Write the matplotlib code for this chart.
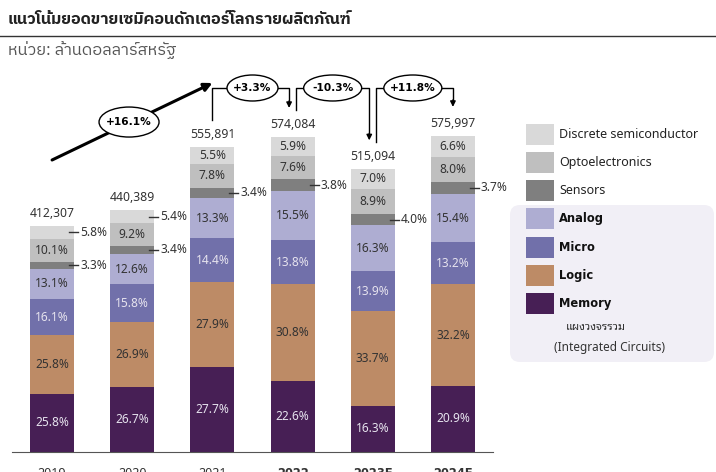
import matplotlib
matplotlib.use("Agg")
import matplotlib.pyplot as plt
from matplotlib.patches import Ellipse, FancyBboxPatch, Rectangle
import numpy as np

plt.rcParams["font.family"] = ["Noto Sans", "Noto Sans Thai", "DejaVu Sans"]
THAI = ["IBM Plex Sans Thai", "Noto Sans Thai", "Noto Sans"]
BOLD = "DejaVu Sans"   # Noto Sans here has no bold face

# ---- data ----
years = ["2019", "2020", "2021", "2022", "2023F", "2024F"]
bold_years = ["2022", "2023F", "2024F"]
totals = [412307, 440389, 555891, 574084, 515094, 575997]
growth = ["+16.1%", "+3.3%", "-10.3%", "+11.8%"]   # 2019->2021, then year on year

# shares (%) bottom -> top
memory = [25.8, 26.7, 27.7, 22.6, 16.3, 20.9]
logic = [25.8, 26.9, 27.9, 30.8, 33.7, 32.2]
micro = [16.1, 15.8, 14.4, 13.8, 13.9, 13.2]
analog = [13.1, 12.6, 13.3, 15.5, 16.3, 15.4]
sensors = [3.3, 3.4, 3.4, 3.8, 4.0, 3.7]
opto = [10.1, 9.2, 7.8, 7.6, 8.9, 8.0]
discrete = [5.8, 5.4, 5.5, 5.9, 7.0, 6.6]
# which labels sit outside the bar (with a small leader)
sensors_out = [True] * 6
discrete_out = [True, True, False, False, False, False]

series = [
    ("Memory", memory, "#471f55", "#e6e3ee", None),
    ("Logic", logic, "#bd8b66", "#333333", None),
    ("Micro", micro, "#7170aa", "#e6e3ee", None),
    ("Analog", analog, "#aeadd2", "#333333", None),
    ("Sensors", sensors, "#7f7f7f", "#333333", sensors_out),
    ("Optoelectronics", opto, "#bfbfbf", "#333333", None),
    ("Discrete semiconductor", discrete, "#d9d9d9", "#333333", discrete_out),
]
ic_names = ["Analog", "Micro", "Logic", "Memory"]

W, H = 716, 472
fig = plt.figure(figsize=(W / 100, H / 100), dpi=100)
ax = fig.add_axes([12 / W, 20 / H, 481 / W, 392 / H])
ax.patch.set_visible(False)
ov = fig.add_axes([0, 0, 1, 1], zorder=3)
ov.set_xlim(0, W); ov.set_ylim(H, 0); ov.axis("off")

x = np.arange(len(years))
bw = 0.55
ax.set_xlim(-0.5, len(years) - 0.5)
ax.set_ylim(0, 714300)
tot = np.array(totals, dtype=float)

def to_px(xd, yd):
    dx, dy = ax.transData.transform((xd, yd))
    return dx, H - dy

bottom = np.zeros(len(years))
for name, pct, col, tcol, outside in series:
    h = tot * np.array(pct) / 100
    ax.bar(x, h, bw, bottom=bottom, color=col, edgecolor="none")
    for i in range(len(years)):
        yc = bottom[i] + h[i] / 2
        if outside is not None and outside[i]:
            px, py = to_px(x[i] + bw / 2, yc)
            ov.plot([px - 5, px + 4], [py, py], color="#333333", lw=1)
            ov.text(px + 6, py, f"{pct[i]:.1f}%", va="center", ha="left",
                    fontsize=8.6, color="#333333")
        else:
            ax.text(x[i], yc, f"{pct[i]:.1f}%", ha="center", va="center",
                    fontsize=8.6, color=tcol)
    bottom += h

for i, t in enumerate(totals):
    px, py = to_px(x[i], t)
    ov.text(px, py - 9, f"{t:,}", ha="center", va="baseline", fontsize=8.8, color="#333333")

for s in ["top", "right", "left"]:
    ax.spines[s].set_visible(False)
ax.spines["bottom"].set_color("#555555")
ax.set_yticks([])
ax.set_xticks(x)
ax.set_xticklabels(years, fontsize=9, color="#333333")
for lab in ax.get_xticklabels():
    if lab.get_text() in bold_years:
        lab.set_fontweight("bold")
        lab.set_family(BOLD)
        lab.set_fontsize(8.3)
ax.tick_params(axis="x", length=0, pad=11)

# ---- growth annotations ----
top_px = [to_px(x[i], totals[i]) for i in range(len(years))]
ey = 88
# 2019 -> 2021 trend arrow
x0, y0 = top_px[0][0], 160
x1, y1 = top_px[2][0], 83
ov.annotate("", xy=(x1, y1), xytext=(x0, y0),
            arrowprops=dict(arrowstyle="-|>", lw=2.2, color="black", mutation_scale=12,
                            shrinkA=0, shrinkB=0))
t = 0.48
ov.add_patch(Ellipse((x0 + t * (x1 - x0), y0 + t * (y1 - y0) - 1), 60, 30,
                     facecolor="white", edgecolor="black", lw=1, zorder=3))
ov.text(x0 + t * (x1 - x0), y0 + t * (y1 - y0) - 1, growth[0], ha="center", va="center",
        fontsize=7.6, fontweight="bold", family=BOLD, zorder=4)

for k, g in enumerate(growth[1:]):
    i = k + 2
    xa, ya = top_px[i]
    xb, yb = top_px[i + 1]
    cx = (xa + xb) / 2
    ew = 51 if len(g) <= 5 else 58
    ov.add_patch(Ellipse((cx, ey), ew, 26, facecolor="white", edgecolor="black", lw=1, zorder=3))
    ov.text(cx, ey, g, ha="center", va="center", fontsize=7.6, fontweight="bold",
            family=BOLD, zorder=4)
    # up from bar i
    lx = xa if i == 2 else xa + 3.5
    ov.plot([lx, lx, cx - ew / 2], [ya - 27, ey, ey], color="black", lw=1)
    # down into bar i+1
    rx = xb - 3.5 if i + 1 < len(years) - 1 else xb
    ov.plot([cx + ew / 2, rx, rx], [ey, ey, yb - 34], color="black", lw=1)
    ov.annotate("", xy=(rx, yb - 29), xytext=(rx, yb - 36),
                arrowprops=dict(arrowstyle="-|>", lw=1, color="black", mutation_scale=8,
                                shrinkA=0, shrinkB=0))

# ---- title ----
ov.text(8, 20, "แนวโน้มยอดขายเซมิคอนดักเตอร์โลกรายผลิตภัณฑ์", ha="left", va="center",
        fontsize=11.7, fontweight="bold", color="#222222", family=THAI)
ov.plot([0, W], [35.5, 35.5], color="#333333", lw=1)
ov.text(8, 50, "หน่วย: ล้านดอลลาร์สหรัฐ", ha="left", va="center",
        fontsize=11.8, color="#555555", family=THAI)

# ---- legend ----
ov.add_patch(FancyBboxPatch((510, 205), 204, 157, boxstyle="round,pad=0,rounding_size=10",
                            facecolor="#f1eff6", edgecolor="none", zorder=0))
ly = 134
for name, pct, col, tcol, outside in series[::-1]:
    ov.add_patch(Rectangle((526, ly - 10.5), 28, 21, facecolor=col, edgecolor="none", zorder=1))
    if name in ic_names:
        ov.text(559, ly, name, ha="left", va="center", fontsize=8.3, color="#111111",
                fontweight="bold", family=BOLD)
    else:
        ov.text(559, ly, name, ha="left", va="center", fontsize=9, color="#222222")
    ly += 28.3
ov.text(596, 328, "แผงวงจรรวม", ha="center", va="center", fontsize=8, color="#333333",
        family=["Noto Sans Thai Looped", "Noto Sans"])
ov.text(610, 348, "(Integrated Circuits)", ha="center", va="center", fontsize=8.5,
        color="#333333")

fig.savefig("out.png", dpi=100)
